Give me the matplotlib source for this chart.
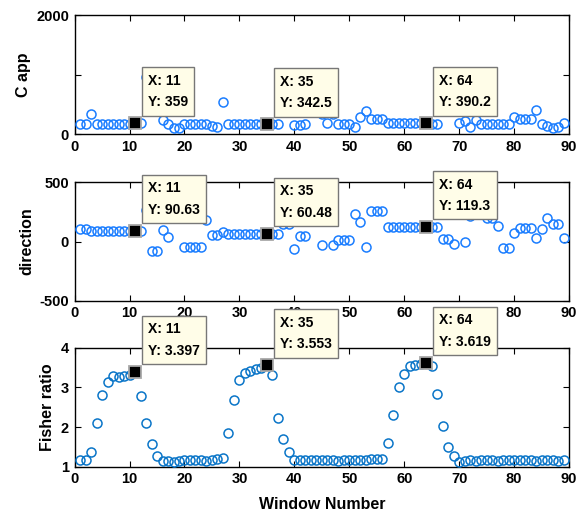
import numpy as np
import matplotlib
matplotlib.use("Agg")
import matplotlib.pyplot as plt

plt.rcParams['font.family'] = ['Liberation Sans', 'DejaVu Sans']
plt.rcParams['font.weight'] = 'bold'

window = np.arange(1, 90)

c_app = [168, 168, 335, 180, 180, 180, 180, 180, 180, 180,
         184, 184, 960, 700, 600, 235, 168, 111, 111, 168,
         168, 168, 168, 168, 140, 128, 536, 168, 168, 168,
         168, 168, 168, 168, 168, 168, 168, 650, 550, 150,
         150, 168, 700, 550, 340, 184, 335, 168, 168, 168,
         128, 285, 390, 252, 252, 252, 184, 184, 184, 184,
         184, 184, 184, 184, 176, 176, 550, 650, 550, 184,
         218, 128, 235, 168, 168, 168, 168, 168, 168, 295,
         252, 252, 252, 402, 168, 145, 111, 128, 184]

direction = [104, 104, 93, 93, 93, 93, 93, 93, 93, 93,
             93, 93, 270, -84, -84, 99, 42, 350, 350, -47,
             -47, -47, -47, 180, 51, 56, 79, 65, 65, 65,
             65, 65, 65, 65, 62, 65, 65, 145, 145, -64,
             50, 50, 350, 350, -28, 350, -28, 15, 15, 15,
             234, 163, -47, 262, 262, 262, 121, 121, 121, 121,
             121, 121, 121, 121, 121, 121, 20, 20, -19, 350,
             -5, 215, 350, 350, 200, 195, 132, -56, -56, 76,
             113, 113, 113, 28, 104, 197, 149, 149, 28]

fisher = [1.18, 1.17, 1.36, 2.10, 2.80, 3.13, 3.28, 3.25, 3.28, 3.32,
          3.397, 2.78, 2.10, 1.57, 1.27, 1.15, 1.15, 1.12, 1.15, 1.18,
          1.17, 1.18, 1.17, 1.15, 1.18, 1.20, 1.23, 1.84, 2.67, 3.19,
          3.37, 3.42, 3.47, 3.50, 3.553, 3.32, 2.23, 1.70, 1.36, 1.17,
          1.16, 1.17, 1.16, 1.17, 1.16, 1.17, 1.16, 1.15, 1.17, 1.16,
          1.17, 1.16, 1.17, 1.19, 1.20, 1.20, 1.60, 2.31, 3.02, 3.33,
          3.53, 3.56, 3.58, 3.619, 3.54, 2.83, 2.02, 1.50, 1.27, 1.13,
          1.15, 1.16, 1.14, 1.16, 1.17, 1.16, 1.15, 1.16, 1.17, 1.16,
          1.17, 1.16, 1.17, 1.15, 1.16, 1.17, 1.16, 1.15, 1.17]

tip_x = [11, 35, 64]
c_app_tips = ['359', '342.5', '390.2']
direction_tips = ['90.63', '60.48', '119.3']
fisher_tips = ['3.397', '3.553', '3.619']

fig = plt.figure(figsize=(5.83, 5.25), dpi=100)
left, width = 0.128, 0.848
ax1 = fig.add_axes([left, 0.7442, width, 0.2272])
ax2 = fig.add_axes([left, 0.4272, width, 0.2255])
ax3 = fig.add_axes([left, 0.1110, width, 0.2267])


def style(ax, ylim, yticks, ylabels, ylabel, color, y, tips):
    ax.plot(window, y, 'o', mfc='none', mec=color, ms=6.5, mew=1.1,
            clip_on=False, zorder=3)
    ax.set_xlim(0, 90)
    ax.set_ylim(*ylim)
    ax.set_xticks(range(0, 91, 10))
    ax.set_yticks(yticks)
    ax.set_yticklabels(ylabels)
    ax.set_ylabel(ylabel, fontsize=11.5, fontweight='bold')
    ax.tick_params(direction='in', top=True, right=True, length=4,
                   width=0.8, labelsize=10.5, pad=4)
    for sp in ax.spines.values():
        sp.set_linewidth(1.0)
    for xi, txt in zip(tip_x, tips):
        yi = y[xi - 1]
        ax.plot([xi], [yi], 's', mfc='black', mec='#a8a8a8', ms=8.5,
                mew=1.3, zorder=6, clip_on=False)
        ax.annotate('X: %d\nY: %s' % (xi, txt), xy=(xi, yi),
                    xytext=(13, 14), textcoords='offset pixels',
                    ha='left', va='bottom', fontsize=10, fontweight='bold',
                    linespacing=1.7, zorder=10, annotation_clip=False,
                    bbox=dict(boxstyle='square,pad=0.45', fc='#fffde8',
                              ec='#777777', lw=1.0))


style(ax1, (0, 2000), [0, 1000, 2000], ['0', '', '2000'], 'C app',
      '#1a7dff', c_app, c_app_tips)
style(ax2, (-500, 500), [-500, 0, 500], ['-500', '0', '500'], 'direction',
      '#1a7dff', direction, direction_tips)
style(ax3, (1, 4), [1, 2, 3, 4], ['1', '2', '3', '4'], 'Fisher ratio',
      '#0a75c8', fisher, fisher_tips)
ax3.set_xlabel('Window Number', fontsize=11.5, fontweight='bold', labelpad=8)

fig.savefig('out.png', dpi=100)
